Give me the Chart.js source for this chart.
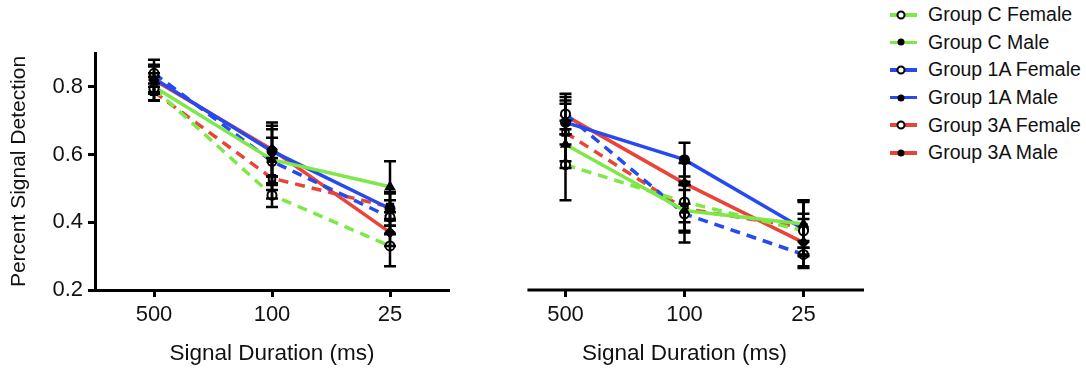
<!DOCTYPE html>
<html>
<head>
<meta charset="utf-8">
<script src="https://cdn.jsdelivr.net/npm/chart.js@4.4.0/dist/chart.umd.min.js"></script>
<style>
  body { margin: 0; background: #fff; width: 1086px; height: 368px; position: relative; overflow: hidden;
         font-family: "Liberation Sans", Arial, sans-serif; color: #111; }
  canvas { position: absolute; top: 0; }
  #left { left: 0; }
  #right { left: 470px; }
  #legend { position: absolute; left: 890px; top: 1px; }
  .item { height: 27.6px; display: flex; align-items: center; font-size: 19.5px; white-space: nowrap; }
  .swatch { position: relative; width: 27px; height: 3.5px; margin-right: 11px; }
  .mark { position: absolute; left: 11px; top: 50%; border-radius: 50%; transform: translate(-50%, -50%); }
  .mark.open { width: 5px; height: 5px; background: #fff; border: 2px solid #000; }
  .mark.filled { width: 7px; height: 7px; background: #000; }
</style>
</head>
<body>
<canvas id="left" width="460" height="368"></canvas>
<canvas id="right" width="400" height="368"></canvas>
<div id="legend"></div>
<script>
const durations = ['500', '100', '25'];
const yTicks = [0.2, 0.4, 0.6, 0.8];

const seriesNames = ['Group C Female', 'Group C Male', 'Group 1A Female', 'Group 1A Male', 'Group 3A Female', 'Group 3A Male'];
const seriesColors = ['rgb(126, 232, 72)', 'rgb(126, 232, 72)', 'rgb(38, 74, 240)', 'rgb(38, 74, 240)', 'rgb(234, 68, 56)', 'rgb(234, 68, 56)'];
const femaleFlags = [true, false, true, false, true, false];
const pointShapes = ['circle', 'triangle', 'circle', 'circle', 'rect', 'rectRot'];

// left panel
const cFemaleL = [0.795, 0.48, 0.33];
const cMaleL = [0.80, 0.585, 0.505];
const g1aFemaleL = [0.84, 0.58, 0.415];
const g1aMaleL = [0.825, 0.61, 0.44];
const g3aFemaleL = [0.785, 0.53, 0.445];
const g3aMaleL = [0.82, 0.615, 0.37];

const cFemaleErrL = [0.035, 0.035, 0.06];
const cMaleErrL = [0.04, 0.09, 0.075];
const g1aFemaleErrL = [0.04, 0.07, 0.05];
const g1aMaleErrL = [0.04, 0.075, 0.05];
const g3aFemaleErrL = [0.025, 0.06, 0.04];
const g3aMaleErrL = [0.04, 0.08, 0.04];

// right panel
const cFemaleR = [0.57, 0.46, 0.375];
const cMaleR = [0.63, 0.435, 0.395];
const g1aFemaleR = [0.72, 0.425, 0.305];
const g1aMaleR = [0.695, 0.585, 0.38];
const g3aFemaleR = [0.665, 0.44, 0.385];
const g3aMaleR = [0.715, 0.515, 0.34];

const cFemaleErrR = [0.105, 0.06, 0.05];
const cMaleErrR = [0.07, 0.06, 0.07];
const g1aFemaleErrR = [0.06, 0.085, 0.04];
const g1aMaleErrR = [0.065, 0.05, 0.08];
const g3aFemaleErrR = [0.085, 0.07, 0.08];
const g3aMaleErrR = [0.055, 0.06, 0.07];

const FONT = '"Liberation Sans", Arial, sans-serif';

function buildDatasets(valueSets, errorSets) {
  return valueSets.map((vals, i) => ({
    label: seriesNames[i],
    data: vals.map((v, j) => ({ x: j, y: v })),
    errors: errorSets[i],
    borderColor: seriesColors[i],
    borderWidth: 3.5,
    borderDash: femaleFlags[i] ? [10, 7] : [],
    pointStyle: pointShapes[i],
    pointRadius: 4.5,
    pointBorderWidth: 2,
    pointBorderColor: '#000',
    pointBackgroundColor: femaleFlags[i] ? '#fff' : '#000',
    tension: 0,
  }));
}

const errorBars = {
  id: 'errorBars',
  afterDatasetsDraw(chart) {
    const { ctx, scales: { x, y } } = chart;
    ctx.save();
    ctx.strokeStyle = '#000';
    ctx.lineWidth = 2.5;
    chart.data.datasets.forEach((ds) => {
      ds.data.forEach((pt, i) => {
        const e = ds.errors[i];
        const px = x.getPixelForValue(pt.x);
        const top = y.getPixelForValue(pt.y + e);
        const bot = y.getPixelForValue(pt.y - e);
        ctx.beginPath();
        ctx.moveTo(px, top); ctx.lineTo(px, bot);
        ctx.moveTo(px - 6, top); ctx.lineTo(px + 6, top);
        ctx.moveTo(px - 6, bot); ctx.lineTo(px + 6, bot);
        ctx.stroke();
      });
    });
    ctx.restore();
  },
};

// right panel's x axis line starts a bit right of the plot area
const partialAxis = {
  id: 'partialAxis',
  afterDraw(chart, args, opts) {
    if (opts.from === undefined) return;
    const { ctx, chartArea, scales: { x } } = chart;
    ctx.save();
    ctx.strokeStyle = '#000';
    ctx.lineWidth = 3;
    ctx.beginPath();
    ctx.moveTo(x.getPixelForValue(opts.from), chartArea.bottom);
    ctx.lineTo(chartArea.right + 1, chartArea.bottom);
    ctx.stroke();
    ctx.restore();
  },
};

function xScale(showBorder) {
  return {
    type: 'linear',
    min: -0.5,
    max: 2.5,
    afterBuildTicks: (axis) => { axis.ticks = durations.map((_, i) => ({ value: i })); },
    ticks: { callback: (v) => durations[v], color: '#111', font: { family: FONT, size: 22 }, padding: 5, maxRotation: 0 },
    grid: { drawOnChartArea: false, drawTicks: true, tickLength: 7, tickWidth: 3, tickColor: '#000' },
    border: { display: showBorder, color: '#000', width: 3 },
    title: { display: true, text: 'Signal Duration (ms)', color: '#111', font: { family: FONT, size: 22.5 }, padding: { top: 0, bottom: 1 } },
    afterFit: (s) => { s.height = 78; },
  };
}

function yScale(show) {
  return {
    type: 'linear',
    display: show,
    min: 0.2,
    max: 0.9,
    afterBuildTicks: (axis) => { axis.ticks = yTicks.map((v) => ({ value: v })); },
    ticks: { callback: (v) => v.toFixed(1), color: '#111', font: { family: FONT, size: 22 }, padding: 5 },
    grid: { drawOnChartArea: false, drawTicks: true, tickLength: 7, tickWidth: 3, tickColor: '#000' },
    border: { color: '#000', width: 3 },
    title: { display: true, text: 'Percent Signal Detection', color: '#111', font: { family: FONT, size: 21 }, padding: { top: 7, bottom: 0 } },
    afterFit: (s) => { s.width = show ? 95 : 0; },
  };
}

function makeChart(id, valueSets, errorSets, opts) {
  return new Chart(document.getElementById(id), {
    type: 'line',
    data: { datasets: buildDatasets(valueSets, errorSets) },
    options: {
      responsive: false,
      animation: false,
      layout: { padding: opts.padding },
      plugins: { legend: { display: false }, tooltip: { enabled: false }, partialAxis: { from: opts.axisFrom } },
      scales: { x: xScale(opts.axisFrom === undefined), y: yScale(opts.showY) },
    },
    plugins: [errorBars, partialAxis],
  });
}

makeChart('left',
  [cFemaleL, cMaleL, g1aFemaleL, g1aMaleL, g3aFemaleL, g3aMaleL],
  [cFemaleErrL, cMaleErrL, g1aFemaleErrL, g1aMaleErrL, g3aFemaleErrL, g3aMaleErrL],
  { padding: { top: 53, right: 11, left: 0, bottom: 0 }, showY: true });

makeChart('right',
  [cFemaleR, cMaleR, g1aFemaleR, g1aMaleR, g3aFemaleR, g3aMaleR],
  [cFemaleErrR, cMaleErrR, g1aFemaleErrR, g1aMaleErrR, g3aFemaleErrR, g3aMaleErrR],
  { padding: { top: 53, right: 7, left: 36, bottom: 0 }, showY: false, axisFrom: -0.32 });

// legend: line swatch with open/filled marker
const legendEl = document.getElementById('legend');
seriesNames.forEach((name, i) => {
  const row = document.createElement('div');
  row.className = 'item';
  row.innerHTML = `<span class="swatch" style="background:${seriesColors[i]}">` +
    `<span class="mark ${femaleFlags[i] ? 'open' : 'filled'}"></span></span>${name}`;
  legendEl.appendChild(row);
});
</script>
</body>
</html>
